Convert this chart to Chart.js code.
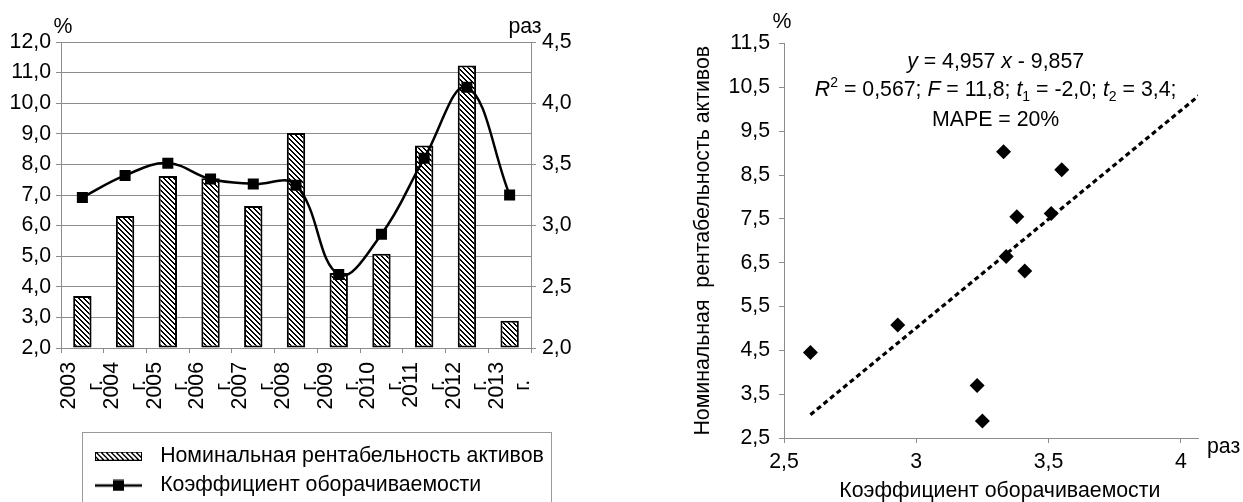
<!DOCTYPE html>
<html>
<head>
<meta charset="utf-8">
<script src="https://cdn.jsdelivr.net/npm/chart.js@4.4.1/dist/chart.umd.min.js"></script>
<style>
html,body{margin:0;padding:0;background:#fff;}
#c1{position:absolute;left:0;top:0;}
#c2{position:absolute;left:620px;top:0;}
</style>
</head>
<body>
<canvas id="c1" width="600" height="502"></canvas>
<canvas id="c2" width="623" height="502"></canvas>
<script>
// ---------- data ----------
const years = ['2003','2004','2005','2006','2007','2008','2009','2010','2011','2012','2013'];
const yearSuffix = 'г.';
const roa = [3.70, 6.31, 7.62, 7.55, 6.64, 9.03, 4.45, 5.08, 8.62, 11.23, 2.89];       // Номинальная рентабельность активов, %
const turnover = [3.23, 3.41, 3.51, 3.38, 3.34, 3.33, 2.60, 2.93, 3.55, 4.13, 3.25];  // Коэффициент оборачиваемости, раз
const seriesNames = ['Номинальная рентабельность активов', 'Коэффициент оборачиваемости'];
const leftAxisRange = [2, 12, 1];
const rightAxisRange = [2, 4.5, 0.5];
const scatterXRange = [2.5, 4.065, 0.5];
const scatterYRange = [2.5, 11.5, 1];
const trendCoef = [4.957, -9.857];
const eqLine1 = [{t:'y',i:true},{t:' = 4,957 '},{t:'x',i:true},{t:' - 9,857'}];
const eqLine2 = [{t:'R',i:true},{t:'2',sup:true},{t:' = 0,567; '},{t:'F',i:true},{t:' = 11,8; '},{t:'t',i:true},{t:'1',sub:true},{t:' = -2,0; '},{t:'t',i:true},{t:'2',sub:true},{t:' = 3,4;'}];
const eqLine3 = [{t:'MAPE = 20%'}];

// ---------- styling helpers ----------
const FAM = "'Liberation Sans', Arial, sans-serif";
const FS = 21.3;
const GRID = '#8c8c8c';
const NB = '\u00A0';
Chart.defaults.font.family = FAM;
Chart.defaults.font.size = FS;
Chart.defaults.color = '#000';

const fmt1 = v => Number(v).toFixed(1).replace('.', ',');
const fmtShort = v => String(Math.round(v * 100) / 100).replace('.', ',');

function makeHatch() {
  const c = document.createElement('canvas');
  c.width = 5; c.height = 5;
  const x = c.getContext('2d');
  x.fillStyle = '#fff'; x.fillRect(0, 0, 5, 5);
  x.fillStyle = '#000';
  for (let i = 0; i < 5; i++) { x.fillRect(i, i, 1, 1); x.fillRect((i + 1) % 5, i, 1, 1); }
  return x.createPattern(c, 'repeat');
}
const hatch = makeHatch();

function barIcon() {
  const c = document.createElement('canvas');
  c.width = 47; c.height = 9;
  const x = c.getContext('2d');
  x.fillStyle = hatch; x.fillRect(0, 0, 47, 9);
  x.strokeStyle = '#000'; x.lineWidth = 1; x.strokeRect(0.5, 0.5, 46, 8);
  return c;
}
function lineIcon() {
  const c = document.createElement('canvas');
  c.width = 47; c.height = 12;
  const x = c.getContext('2d');
  x.strokeStyle = '#000'; x.lineWidth = 2.5;
  x.beginPath(); x.moveTo(0, 6); x.lineTo(47, 6); x.stroke();
  x.fillStyle = '#000'; x.fillRect(18, 0.5, 11, 11);
  return c;
}

function drawRuns(ctx, runs, cx, y, size) {
  const fontFor = r => (r.i ? 'italic ' : '') + ((r.sup || r.sub) ? Math.round(size * 0.65) : size) + 'px ' + FAM;
  let w = 0;
  runs.forEach(r => { ctx.font = fontFor(r); r.w = ctx.measureText(r.t).width; w += r.w; });
  let x = cx - w / 2;
  ctx.textAlign = 'left';
  ctx.textBaseline = 'alphabetic';
  runs.forEach(r => {
    ctx.font = fontFor(r);
    const dy = r.sup ? -size * 0.42 : (r.sub ? size * 0.22 : 0);
    ctx.fillText(r.t, x, y + dy);
    x += r.w;
  });
}

// ---------- left chart ----------
const leftDecor = {
  id: 'leftDecor',
  beforeDraw(chart) {
    const a = chart.chartArea, lg = chart.legend;
    lg.left = a.left + 18.5;
    lg.top = a.bottom + 89.5;
  },
  afterDraw(chart) {
    const ctx = chart.ctx, a = chart.chartArea;
    ctx.save();
    ctx.strokeStyle = '#9a9a9a'; ctx.lineWidth = 1;
    ctx.strokeRect(Math.round(a.left + 21) + 0.5, Math.round(a.bottom + 84) + 0.5, 469, 120);
    ctx.fillStyle = '#000';
    ctx.font = FS + 'px ' + FAM;
    ctx.textAlign = 'center'; ctx.textBaseline = 'alphabetic';
    ctx.fillText('%', a.left + 2, a.top - 9);
    ctx.fillText('раз', a.right - 6, a.top - 9);
    ctx.restore();
  }
};

new Chart(document.getElementById('c1'), {
  type: 'bar',
  data: {
    labels: years,
    datasets: [
      {
        type: 'line', label: seriesNames[1], data: turnover, yAxisID: 'y1', order: 0,
        borderColor: '#000', borderWidth: 2.5, tension: 0.4, fill: false,
        pointStyle: 'rect', pointRadius: 7.8, pointBackgroundColor: '#000', pointBorderWidth: 0
      },
      {
        type: 'bar', label: seriesNames[0], data: roa, yAxisID: 'y', order: 1,
        backgroundColor: hatch, borderColor: '#000', borderWidth: 2, borderSkipped: false,
        barPercentage: 0.43, categoryPercentage: 1, base: leftAxisRange[0]
      }
    ]
  },
  options: {
    responsive: false, animation: false,
    layout: { padding: { top: 42, left: 0, right: 0, bottom: 0 } },
    plugins: {
      tooltip: { enabled: false },
      legend: {
        position: 'bottom', align: 'start',
        labels: {
          usePointStyle: true, pointStyleWidth: 62, padding: 8, color: '#000',
          font: { size: FS },
          generateLabels: () => [
            { text: seriesNames[0], pointStyle: barIcon(), fillStyle: '#fff', strokeStyle: '#000', lineWidth: 0, hidden: false, datasetIndex: 1 },
            { text: seriesNames[1], pointStyle: lineIcon(), fillStyle: '#000', strokeStyle: '#000', lineWidth: 0, hidden: false, datasetIndex: 0 }
          ]
        }
      }
    },
    scales: {
      x: {
        offset: true,
        grid: { offset: true, drawOnChartArea: false, tickLength: 5, tickColor: GRID },
        border: { color: GRID },
        ticks: {
          autoSkip: false, maxRotation: 90, minRotation: 90, padding: 9, labelOffset: -13,
          font: { size: FS, lineHeight: 1.25 }, color: '#000',
          callback: (v, i) => [years[i], yearSuffix + NB + NB + NB]
        },
        afterFit: s => { s.height = 154 - (s.chart.legend ? s.chart.legend.height : 0); }
      },
      y: {
        position: 'left', min: leftAxisRange[0], max: leftAxisRange[1],
        ticks: { stepSize: leftAxisRange[2], callback: fmt1, padding: 5, color: '#000', font: { size: FS } },
        grid: { color: GRID, tickLength: 5, tickColor: GRID },
        border: { color: GRID },
        afterFit: s => { s.width = 61; }
      },
      y1: {
        position: 'right', min: rightAxisRange[0], max: rightAxisRange[1],
        ticks: { stepSize: rightAxisRange[2], callback: fmt1, padding: 6, color: '#000', font: { size: FS } },
        grid: { drawOnChartArea: false, tickLength: 5, tickColor: GRID },
        border: { color: GRID },
        afterFit: s => { s.width = 69; }
      }
    }
  },
  plugins: [leftDecor]
});

// ---------- right chart ----------
const points = turnover.map((x, i) => ({ x: x, y: roa[i] }));
const tMin = Math.min(...turnover), tMax = Math.max(...turnover);
const trend = [tMin, tMax].map(x => ({ x: x, y: trendCoef[0] * x + trendCoef[1] }));

const rightDecor = {
  id: 'rightDecor',
  afterDraw(chart) {
    const ctx = chart.ctx, a = chart.chartArea;
    ctx.save();
    ctx.fillStyle = '#000';
    ctx.font = FS + 'px ' + FAM;
    ctx.textAlign = 'center'; ctx.textBaseline = 'alphabetic';
    ctx.fillText('%', a.left - 2, a.top - 16);
    ctx.textAlign = 'left';
    ctx.fillText('раз', a.right + 9, a.bottom + 15);
    const cx = chart.scales.x.getPixelForValue(3.3);
    drawRuns(ctx, eqLine1, cx, a.top + 24.5, FS);
    drawRuns(ctx, eqLine2, cx, a.top + 52.5, FS);
    drawRuns(ctx, eqLine3, cx, a.top + 82.5, FS);
    ctx.restore();
  }
};

new Chart(document.getElementById('c2'), {
  type: 'scatter',
  data: {
    datasets: [
      {
        label: 'points', data: points,
        pointStyle: 'rectRot', pointRadius: 7.5, backgroundColor: '#000', borderWidth: 0
      },
      {
        label: 'trend', data: trend, showLine: true,
        borderColor: '#000', borderWidth: 3.2, borderDash: [5, 3.5], pointRadius: 0, fill: false
      }
    ]
  },
  options: {
    responsive: false, animation: false,
    layout: { padding: { top: 43.5, left: 0, right: 45, bottom: 0 } },
    plugins: { legend: { display: false }, tooltip: { enabled: false } },
    scales: {
      x: {
        type: 'linear', min: scatterXRange[0], max: scatterXRange[1],
        ticks: { stepSize: scatterXRange[2], includeBounds: false, callback: fmtShort, padding: 6, color: '#000', font: { size: FS } },
        grid: { drawOnChartArea: false, tickLength: 5, tickColor: GRID },
        border: { color: GRID },
        title: { display: true, text: NB + NB + NB + 'Коэффициент оборачиваемости', color: '#000', font: { size: FS, lineHeight: 1 }, padding: { top: 0, bottom: 0 } },
        afterFit: s => { s.height = 64; }
      },
      y: {
        type: 'linear', min: scatterYRange[0], max: scatterYRange[1],
        ticks: { stepSize: scatterYRange[2], callback: fmt1, padding: 9, color: '#000', font: { size: FS } },
        grid: { drawOnChartArea: false, tickLength: 5, tickColor: GRID },
        border: { color: GRID },
        title: { display: true, text: 'Номинальная  рентабельность активов', color: '#000', font: { size: FS, lineHeight: 1 }, padding: { top: 72.5, bottom: 0 } },
        afterFit: s => { s.width = 164; }
      }
    }
  },
  plugins: [rightDecor]
});
</script>
</body>
</html>
